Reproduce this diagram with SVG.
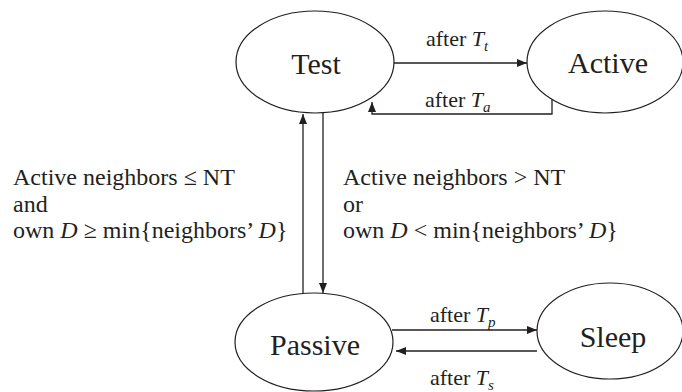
<svg xmlns="http://www.w3.org/2000/svg" width="682" height="392" viewBox="0 0 682 392">
<defs>
<marker id="arr" viewBox="0 0 10 8" refX="10" refY="4" markerWidth="10" markerHeight="8" markerUnits="userSpaceOnUse" orient="auto">
<path d="M0,0 L10,4 L0,8 Z" fill="#231f20"/>
</marker>
<style>
text{font-family:Times,'Times New Roman','Liberation Serif','Noto Serif','DejaVu Serif',FreeSerif,serif;fill:#231f20}
.node ellipse{fill:#fff;stroke:#231f20;stroke-width:1.2}
.node text{font-size:30px;text-anchor:middle}
.edge{fill:none;stroke:#231f20;stroke-width:1.3}
.lbl{font-size:22px}
.cond{font-size:24px}
.it{font-style:italic}
.sub{font-style:italic;font-size:15px}
</style>
</defs>
<rect width="682" height="392" fill="#fff"/>
<g id="connectors">
<line class="edge" x1="394" y1="63" x2="527" y2="63" marker-end="url(#arr)"/>
<polyline class="edge" points="552,99 552,114 372,114 372,102" marker-end="url(#arr)"/>
<line class="edge" x1="303" y1="293" x2="303" y2="114" marker-end="url(#arr)"/>
<line class="edge" x1="323" y1="113" x2="323" y2="293" marker-end="url(#arr)"/>
<line class="edge" x1="392" y1="330" x2="537" y2="330" marker-end="url(#arr)"/>
<line class="edge" x1="537" y1="351" x2="396" y2="351" marker-end="url(#arr)"/>
</g>
<g id="labels">
<text class="lbl" x="426" y="46">after <tspan class="it">T</tspan><tspan class="sub" dy="5">t</tspan></text>
<text class="lbl" x="425" y="107">after <tspan class="it">T</tspan><tspan class="sub" dy="5">a</tspan></text>
<text class="lbl" x="430" y="322">after <tspan class="it">T</tspan><tspan class="sub" dy="5">p</tspan></text>
<text class="lbl" x="430" y="385">after <tspan class="it">T</tspan><tspan class="sub" dy="5">s</tspan></text>
<text class="cond" x="13" y="185">Active neighbors ≤ NT</text>
<text class="cond" x="13" y="212">and</text>
<text class="cond" x="13" y="238">own <tspan class="it">D</tspan> ≥ min{neighbors’ <tspan class="it">D</tspan>}</text>
<text class="cond" x="343" y="185">Active neighbors &gt; NT</text>
<text class="cond" x="343" y="212">or</text>
<text class="cond" x="343" y="238">own <tspan class="it">D</tspan> &lt; min{neighbors’ <tspan class="it">D</tspan>}</text>
</g>
<g id="node-test" class="node">
<ellipse cx="315" cy="62" rx="79" ry="51"/>
<text x="316" y="74">Test</text>
</g>
<g id="node-active" class="node">
<ellipse cx="605" cy="62" rx="78" ry="51"/>
<text x="608" y="73">Active</text>
</g>
<g id="node-passive" class="node">
<ellipse cx="314" cy="342" rx="79" ry="49"/>
<text x="315" y="355">Passive</text>
</g>
<g id="node-sleep" class="node">
<ellipse cx="610" cy="331" rx="73" ry="48"/>
<text x="613" y="347">Sleep</text>
</g>
</svg>
